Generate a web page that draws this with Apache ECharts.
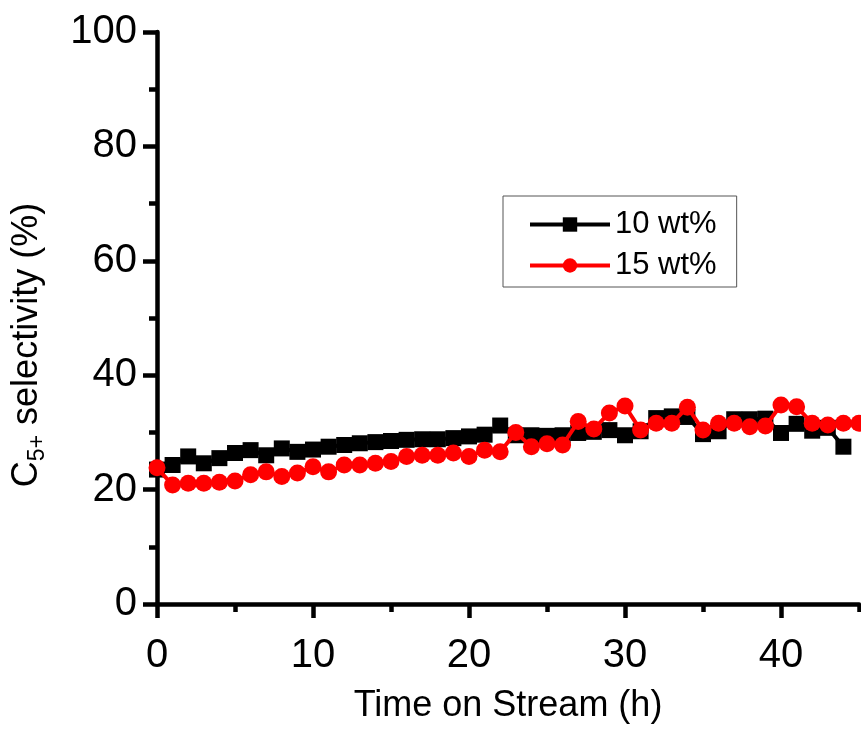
<!DOCTYPE html>
<html>
<head>
<meta charset="utf-8">
<script src="https://cdn.jsdelivr.net/npm/echarts@6/dist/echarts.min.js"></script>
<style>html,body{margin:0;padding:0;background:#fff;}#c{width:861px;height:733px;}</style>
</head>
<body>
<div id="c"></div>
<script>
const hours10 = [0,1,2,3,4,5,6,7,8,9,10,11,12,13,14,15,16,17,18,19,20,21,22,23,24,25,26,27,28,29,30,31,32,33,34,35,36,37,38,39,40,41,42,43,44];
const sel10 = [23.5,24.3,25.8,24.6,25.5,26.4,26.9,26.0,27.2,26.6,27.0,27.5,27.8,28.1,28.3,28.5,28.7,28.8,28.8,29.0,29.3,29.6,31.2,29.5,29.5,29.4,29.5,29.9,30.1,30.4,29.5,30.2,32.5,32.8,32.7,29.7,30.2,32.3,32.3,32.4,29.9,31.5,30.3,30.8,27.5];
const hours15 = [0,1,2,3,4,5,6,7,8,9,10,11,12,13,14,15,16,17,18,19,20,21,22,23,24,25,26,27,28,29,30,31,32,33,34,35,36,37,38,39,40,41,42,43,44,45];
const sel15 = [23.8,20.8,21.1,21.1,21.3,21.5,22.6,23.1,22.3,22.9,24.0,23.1,24.3,24.3,24.6,24.9,25.8,26.0,26.0,26.4,25.8,26.9,26.6,30.0,27.5,28.0,27.8,31.9,30.6,33.4,34.6,30.4,31.6,31.6,34.4,30.4,31.6,31.6,31.0,31.1,34.8,34.5,31.6,31.3,31.6,31.6];
const seriesNames = ['10 wt%', '15 wt%'];
const xMajorTicks = [0, 10, 20, 30, 40];
const xMinorTicks = [5, 15, 25, 35, 45];
const yMajorTicks = [0, 20, 40, 60, 80, 100];
const yMinorTicks = [10, 30, 50, 70, 90];
const xTitle = 'Time on Stream (h)';
const yTitle = 'C{sub|5+} selectivity (%)';

const FONT = "'Liberation Sans', Arial, sans-serif";
const AXW = 4.5;
const chart = echarts.init(document.getElementById('c'), null, {renderer: 'canvas'});
const labelStyle = {color: '#000', fontSize: 40, fontFamily: FONT};
chart.setOption({
  animation: false,
  backgroundColor: '#fff',
  grid: {left: 157, top: 32, width: 702, height: 572, containLabel: false, outerBoundsMode: 'none'},
  legend: {
    data: seriesNames,
    orient: 'vertical',
    left: 503, top: 196,
    width: 235,
    padding: [13, 20, 6, 25],
    itemGap: 10,
    itemWidth: 80, itemHeight: 18,
    borderColor: '#555', borderWidth: 1,
    lineStyle: {width: 4},
    textStyle: {color: '#000', fontSize: 31, fontFamily: FONT}
  },
  xAxis: [
    {
      type: 'value', min: 0, max: 45, gridIndex: 0, position: 'bottom',
      name: xTitle, nameLocation: 'middle', nameGap: 84,
      nameTextStyle: {color: '#000', fontSize: 36, fontFamily: FONT},
      axisLine: {show: true, onZero: false, lineStyle: {color: '#000', width: AXW}},
      axisTick: {show: true, inside: false, length: 14, customValues: xMajorTicks, lineStyle: {color: '#000', width: AXW}},
      axisLabel: Object.assign({}, labelStyle, {margin: 32, customValues: xMajorTicks}),
      splitLine: {show: false}
    },
    {
      type: 'value', min: 0, max: 45, gridIndex: 0, position: 'bottom',
      axisLine: {show: false, onZero: false},
      axisTick: {show: true, inside: false, length: 8, customValues: xMinorTicks, lineStyle: {color: '#000', width: AXW}},
      axisLabel: {show: false},
      splitLine: {show: false}
    }
  ],
  yAxis: [
    {
      type: 'value', min: 0, max: 100, gridIndex: 0, position: 'left',
      name: yTitle, nameLocation: 'middle', nameGap: 108,
      nameTextStyle: {color: '#000', fontSize: 36, fontFamily: FONT, lineHeight: 44, padding: [0, 54, 0, 0],
        rich: {sub: {fontSize: 23, fontFamily: FONT, color: '#000', verticalAlign: 'bottom', lineHeight: 30}}},
      axisLine: {show: true, onZero: false, lineStyle: {color: '#000', width: AXW}},
      axisTick: {show: true, inside: false, length: 14, customValues: yMajorTicks, lineStyle: {color: '#000', width: AXW}},
      axisLabel: Object.assign({}, labelStyle, {margin: 20, customValues: yMajorTicks}),
      splitLine: {show: false}
    },
    {
      type: 'value', min: 0, max: 100, gridIndex: 0, position: 'left',
      axisLine: {show: false, onZero: false},
      axisTick: {show: true, inside: false, length: 8, customValues: yMinorTicks, lineStyle: {color: '#000', width: AXW}},
      axisLabel: {show: false},
      splitLine: {show: false}
    }
  ],
  series: [
    {name: seriesNames[0], type: 'line', xAxisIndex: 0, yAxisIndex: 0,
     data: hours10.map((h, i) => [h, sel10[i]]),
     symbol: 'rect', symbolSize: 16, color: '#000',
     lineStyle: {color: '#000', width: 4}, itemStyle: {color: '#000'}, clip: false, z: 2},
    {name: seriesNames[1], type: 'line', xAxisIndex: 0, yAxisIndex: 0,
     data: hours15.map((h, i) => [h, sel15[i]]),
     symbol: 'circle', symbolSize: 17, color: '#ff0000',
     lineStyle: {color: '#ff0000', width: 4}, itemStyle: {color: '#ff0000'}, clip: false, z: 3}
  ]
});
</script>
</body>
</html>
